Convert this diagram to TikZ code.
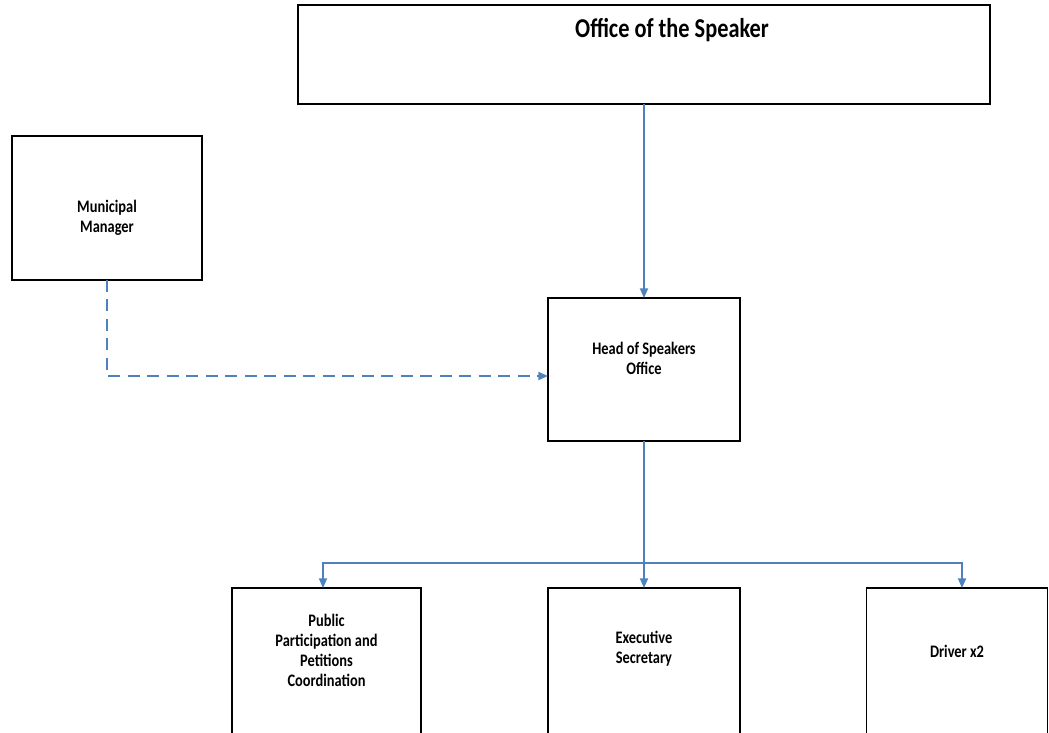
\documentclass[tikz,border=0pt]{standalone}
\usepackage{fontspec}
\setmainfont{Carlito}[FakeStretch=0.82]
\usepackage{tikz}
\usetikzlibrary{arrows.meta}
\definecolor{linkblue}{RGB}{79,129,189}
\newcommand{\unitheight}{2.86cm}
\tikzstyle{unit}=[draw, line width=1.1pt, inner sep=0, outer sep=0, minimum height=\unitheight]
\tikzstyle{wideunit}[1]=[unit, minimum width=#1]
\tikzstyle{caption}=[inner sep=0, align=center, font=\bfseries\fontsize{10}{11.4}\selectfont]
\tikzstyle{link}=[draw=linkblue, line width=0.85pt, -{Triangle[length=5.5pt, width=4.6pt]}]
\tikzstyle{dottedlink}=[link, dash pattern=on 0.24cm off 0.15cm]
\tikzstyle{orgchart}=[x=0.02cm, y=-0.02cm,
                      % Keep the page at the size of the reference.
                      execute at begin picture={\useasboundingbox (0,0) rectangle (1049,733); \clip (0,0) rectangle (1049,733);}]

\begin{document}
\begin{tikzpicture}[orgchart]
        \node[wideunit=13.84cm, minimum height=1.98cm] (office) at (644, 54.5) {};
        \node[caption, font=\bfseries\fontsize{15.5}{18}\selectfont] (officetext) at (672, 30) {Office of the Speaker};
        \node[wideunit=3.8cm, minimum height=2.88cm] (manager) at (107, 208) {};
        \node[caption] (managertext) at (107, 218) {Municipal\\Manager};
        \node[wideunit=3.84cm] (head) at (644, 369.5) {};
        \node[caption] (headtext) at (644, 358) {Head of Speakers\\Office};
        % Bottom row runs off the page.
        \node[wideunit=3.78cm, minimum height=3cm] (public) at (326.5, 663) {};
        \node[caption] (publictext) at (326.5, 650) {Public\\Participation and\\Petitions\\Coordination};
        \node[wideunit=3.84cm, minimum height=3cm] (exec) at (644, 663) {};
        \node[caption] (exectext) at (644, 649) {Executive\\Secretary};
        \node[wideunit=3.62cm, minimum height=3cm] (driver) at (957, 663) {};
        \node[caption] (drivertext) at (957, 651) {Driver x2};
        \coordinate (bus) at (644, 563);
        \coordinate (bend) at (107, 376);
        \draw[link] (office.south) -- (head.north);
        \draw[dottedlink] (manager.south -| bend) -- (bend) -- (head.west |- bend);
        \draw[link, -] (head.south) -- (bus);
        \draw[link] (bus) -| ([xshift=-0.07cm]public.north);
        \draw[link] (bus) -- (exec.north);
        \draw[link] (bus) -| ([xshift=0.1cm]driver.north);
    \end{tikzpicture}
\end{document}
